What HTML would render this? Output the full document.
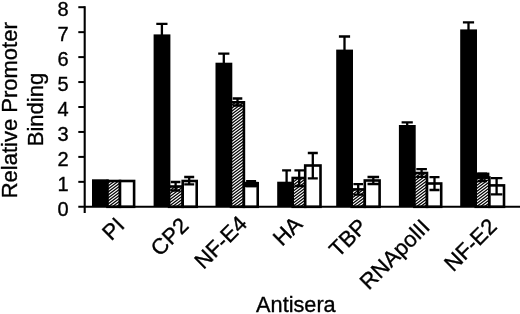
<!DOCTYPE html>
<html><head><meta charset="utf-8"><title>Relative Promoter Binding</title>
<style>
html,body{margin:0;padding:0;background:#fff;}
body{width:520px;height:314px;overflow:hidden;}
svg{display:block;}
text{font-family:"Liberation Sans",Arial,Helvetica,sans-serif;fill:#000;stroke:#000;stroke-width:0.35px;}
</style></head><body>
<svg width="520" height="314" viewBox="0 0 520 314">
<defs>
<pattern id="h" width="4" height="3" patternUnits="userSpaceOnUse">
<rect width="4" height="3" fill="#fff"/>
<path d="M-2,4.5 L6,-1.5 M-2,1.5 L2,-1.5 M2,4.5 L6,1.5" stroke="#000" stroke-width="1.25" fill="none"/>
</pattern>
</defs>
<rect width="520" height="314" fill="#fff"/>

<rect x="92.0" y="179.3" width="16.8" height="27.5" fill="#000"/>
<rect x="107.5" y="181.0" width="12.5" height="25.8" fill="url(#h)" stroke="#000" stroke-width="2.6"/>
<rect x="120.0" y="181.0" width="14.1" height="25.8" fill="#fff" stroke="#000" stroke-width="2.6"/>
<rect x="153.6" y="34.4" width="16.8" height="172.4" fill="#000"/>
<rect x="169.1" y="186.5" width="13.6" height="20.3" fill="url(#h)" stroke="#000" stroke-width="2.6"/>
<rect x="182.7" y="181.0" width="14.0" height="25.8" fill="#fff" stroke="#000" stroke-width="2.6"/>
<path d="M161.9,23.8 V35.4 M156.3,23.8 H167.5" stroke="#000" stroke-width="2.3" fill="none"/>
<path d="M175.6,182.0 V190.5 M170.8,182.0 H180.4 M170.8,190.5 H180.4" stroke="#000" stroke-width="2.3" fill="none"/>
<path d="M189.2,177.0 V184.3 M184.2,177.0 H194.2 M184.2,184.3 H194.2" stroke="#000" stroke-width="2.3" fill="none"/>
<rect x="215.5" y="62.7" width="16.8" height="144.1" fill="#000"/>
<rect x="231.0" y="102.3" width="12.9" height="104.5" fill="url(#h)" stroke="#000" stroke-width="2.6"/>
<rect x="243.9" y="183.2" width="13.8" height="23.6" fill="#fff" stroke="#000" stroke-width="2.6"/>
<rect x="243.9" y="181.9" width="13.8" height="5.3" fill="#000"/>
<path d="M223.8,53.7 V63.7 M218.2,53.7 H229.4" stroke="#000" stroke-width="2.3" fill="none"/>
<path d="M237.5,98.5 V105.5 M232.7,98.5 H242.3 M232.7,105.5 H242.3" stroke="#000" stroke-width="2.3" fill="none"/>
<path d="M251.1,181.2 V186.2 M246.1,181.2 H256.1 M246.1,186.2 H256.1" stroke="#000" stroke-width="2.3" fill="none"/>
<rect x="277.2" y="181.7" width="16.8" height="25.1" fill="#000"/>
<rect x="292.7" y="178.0" width="12.5" height="28.8" fill="url(#h)" stroke="#000" stroke-width="2.6"/>
<rect x="305.2" y="165.5" width="15.3" height="41.3" fill="#fff" stroke="#000" stroke-width="2.6"/>
<path d="M286.6,170.3 V182.7 M282.1,170.3 H291.1" stroke="#000" stroke-width="2.3" fill="none"/>
<path d="M299.2,170.3 V186.0 M294.4,170.3 H304.0 M294.4,186.0 H304.0" stroke="#000" stroke-width="2.3" fill="none"/>
<path d="M312.8,153.0 V178.4 M307.8,153.0 H317.8 M307.8,178.4 H317.8" stroke="#000" stroke-width="2.3" fill="none"/>
<rect x="336.2" y="49.6" width="16.8" height="157.2" fill="#000"/>
<rect x="351.7" y="189.4" width="13.1" height="17.4" fill="url(#h)" stroke="#000" stroke-width="2.6"/>
<rect x="364.8" y="180.5" width="14.8" height="26.3" fill="#fff" stroke="#000" stroke-width="2.6"/>
<path d="M344.5,36.5 V50.6 M338.9,36.5 H350.1" stroke="#000" stroke-width="2.3" fill="none"/>
<path d="M358.2,184.1 V194.7 M353.4,184.1 H363.0 M353.4,194.7 H363.0" stroke="#000" stroke-width="2.3" fill="none"/>
<path d="M373.3,177.0 V184.0 M367.5,177.0 H379.1 M367.5,184.0 H379.1" stroke="#000" stroke-width="2.3" fill="none"/>
<rect x="398.9" y="125.0" width="16.8" height="81.8" fill="#000"/>
<rect x="414.4" y="173.0" width="12.6" height="33.8" fill="url(#h)" stroke="#000" stroke-width="2.6"/>
<rect x="427.0" y="183.5" width="14.2" height="23.3" fill="#fff" stroke="#000" stroke-width="2.6"/>
<path d="M407.2,122.4 V126.0 M401.6,122.4 H412.8" stroke="#000" stroke-width="2.3" fill="none"/>
<path d="M421.6,169.2 V176.9 M416.3,169.2 H426.9 M416.3,176.9 H426.9" stroke="#000" stroke-width="2.3" fill="none"/>
<path d="M434.5,177.2 V190.0 M429.5,177.2 H439.5 M429.5,190.0 H439.5" stroke="#000" stroke-width="2.3" fill="none"/>
<rect x="460.2" y="29.4" width="16.8" height="177.4" fill="#000"/>
<rect x="475.7" y="177.5" width="13.7" height="29.3" fill="url(#h)" stroke="#000" stroke-width="2.6"/>
<rect x="489.4" y="185.4" width="14.6" height="21.4" fill="#fff" stroke="#000" stroke-width="2.6"/>
<rect x="475.7" y="172.6" width="13.7" height="6.2" fill="#000"/>
<path d="M468.5,22.4 V30.4 M462.9,22.4 H474.1" stroke="#000" stroke-width="2.3" fill="none"/>
<path d="M482.2,173.6 V181.0 M477.4,173.6 H487.0 M477.4,181.0 H487.0" stroke="#000" stroke-width="2.3" fill="none"/>
<path d="M496.6,178.2 V194.4 M490.8,178.2 H502.4 M490.8,194.4 H502.4" stroke="#000" stroke-width="2.3" fill="none"/>
<path d="M84.7,6.2 V213" stroke="#000" stroke-width="2.1" fill="none"/>
<path d="M78.3,206.8 H520" stroke="#000" stroke-width="2.1" fill="none"/>
<path d="M78.3,181.85 H84.7" stroke="#000" stroke-width="2" fill="none"/>
<path d="M78.3,156.90 H84.7" stroke="#000" stroke-width="2" fill="none"/>
<path d="M78.3,131.95 H84.7" stroke="#000" stroke-width="2" fill="none"/>
<path d="M78.3,107.00 H84.7" stroke="#000" stroke-width="2" fill="none"/>
<path d="M78.3,82.05 H84.7" stroke="#000" stroke-width="2" fill="none"/>
<path d="M78.3,57.10 H84.7" stroke="#000" stroke-width="2" fill="none"/>
<path d="M78.3,32.15 H84.7" stroke="#000" stroke-width="2" fill="none"/>
<path d="M78.3,7.20 H84.7" stroke="#000" stroke-width="2" fill="none"/>
<text x="68.6" y="215.6" font-size="20" text-anchor="end">0</text>
<text x="68.6" y="190.7" font-size="20" text-anchor="end">1</text>
<text x="68.6" y="165.7" font-size="20" text-anchor="end">2</text>
<text x="68.6" y="140.8" font-size="20" text-anchor="end">3</text>
<text x="68.6" y="115.8" font-size="20" text-anchor="end">4</text>
<text x="68.6" y="90.9" font-size="20" text-anchor="end">5</text>
<text x="68.6" y="65.9" font-size="20" text-anchor="end">6</text>
<text x="68.6" y="41.0" font-size="20" text-anchor="end">7</text>
<text x="68.6" y="16.0" font-size="20" text-anchor="end">8</text>
<text transform="translate(16.5,110.3) rotate(-90)" font-size="22" text-anchor="middle">Relative Promoter</text>
<text transform="translate(42.8,109.5) rotate(-90)" font-size="22" text-anchor="middle">Binding</text>
<text transform="translate(125.9,226.7) rotate(-45)" font-size="22" text-anchor="end">PI</text>
<text transform="translate(190.0,226.9) rotate(-45)" font-size="22" text-anchor="end">CP2</text>
<text transform="translate(248.4,225.0) rotate(-45)" font-size="22" text-anchor="end">NF-E4</text>
<text transform="translate(303.6,225.5) rotate(-45)" font-size="22" text-anchor="end">HA</text>
<text transform="translate(368.5,227.9) rotate(-45)" font-size="22" text-anchor="end">TBP</text>
<text transform="translate(431.0,228.4) rotate(-45)" font-size="22" text-anchor="end">RNApolII</text>
<text transform="translate(498.1,227.6) rotate(-45)" font-size="22" text-anchor="end">NF-E2</text>
<text x="295.9" y="312" font-size="21.7" text-anchor="middle">Antisera</text>
</svg></body></html>
